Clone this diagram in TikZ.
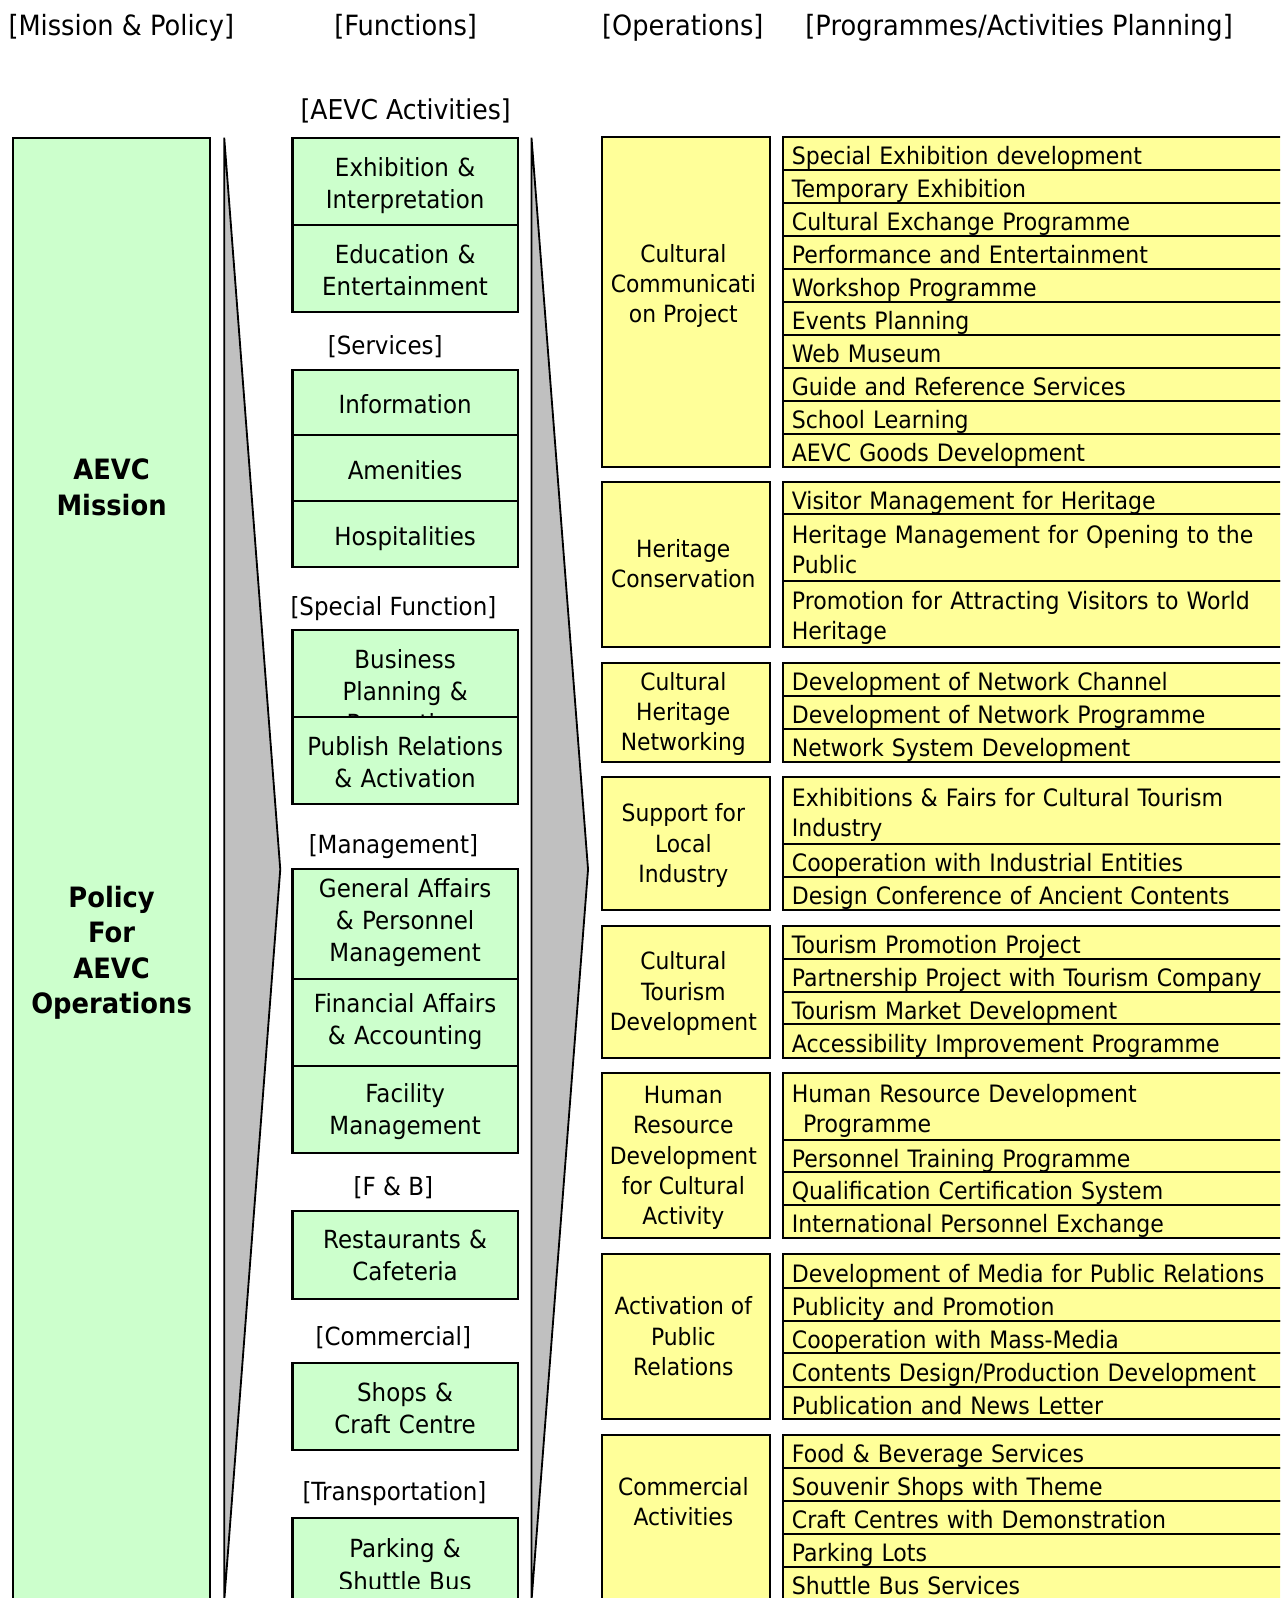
\documentclass[tikz,border=0pt]{standalone}
\usepackage{fontspec}
\setmainfont{DejaVu Sans}[FakeStretch=0.92]
\definecolor{mint}{HTML}{CCFFCC}
\definecolor{lemon}{HTML}{FFFF99}
\definecolor{chevgray}{HTML}{C0C0C0}
% a box given by its left edge, top and bottom
\newcommand\placecell[6]{%
  \pgfmathsetmacro\cellh{(#5)-(#4)}%
  \node[#2, minimum height=\cellh pt, anchor=north west] (#1) at (#3,#4) {#6};}
% an operations box with its caption set a little left of and below the centre
\newcommand\opsbox[4]{%
  \placecell{#1}{ocell}{591}{#2}{#3}{}%
  \node[otxt] (#1-t) at ([xshift=-3pt,yshift=-3pt]#1.center) {#4};}
\tikzset{
  every node/.style={inner sep=0pt, outer sep=0pt},
  edgeline/.style={draw=black, line width=2pt},
  % struts that fix where the lines of a text block sit
  fstrut/.style 2 args={execute at begin node={\rule{0pt}{#1}},
    execute at end node={\rule[-#2]{0pt}{#2}}},
  % function boxes
  ftxtbase/.style={text width=205pt, align=center, font=\fontsize{24.5}{31.5}\selectfont},
  ftxt/.style={ftxtbase, fstrut={29.9pt}{8pt}},
  fcell/.style={edgeline, fill=mint, minimum width=221pt, ftxtbase, fstrut={29.9pt}{8pt}},
  fcellhi/.style={edgeline, fill=mint, minimum width=221pt, ftxtbase, fstrut={22.9pt}{12pt}},
  fcellmid/.style={edgeline, fill=mint, minimum width=221pt, ftxtbase, fstrut={25.9pt}{9pt}},
  fcelleven/.style={edgeline, fill=mint, minimum width=221pt, ftxtbase, fstrut={25.9pt}{8pt}},
  % operations boxes
  otxt/.style={align=center, font=\fontsize{23.3}{29.7}\selectfont, fstrut={26pt}{7pt}},
  ocell/.style={edgeline, fill=lemon, minimum width=165pt},
  % programme rows
  icell/.style={edgeline, fill=lemon, text width=560pt, inner xsep=9pt, align=left,
    font=\fontsize{23.5}{29.5}\selectfont, fstrut={26.5pt}{4.8pt}},
  % mission & policy
  mcell/.style={edgeline, fill=mint, minimum width=193pt},
  mtxt/.style={align=center, font=\bfseries\fontsize{27.5}{34.5}\selectfont, fstrut={28pt}{8pt}},
  head/.style={anchor=base, font=\fontsize{27.4}{33}\selectfont},
  cat/.style={anchor=base, font=\fontsize{24.5}{30}\selectfont},
  catbig/.style={anchor=base, font=\fontsize{26.8}{32}\selectfont},
  chevron/.style={fill=chevgray, draw=black, line width=1.8pt, line join=miter},
}
\begin{document}
\begin{tikzpicture}[x=1pt,y=-1pt]
\path[use as bounding box] (0,0) rectangle (1256,1568);
\fill[white] (0,0) rectangle (1256,1568);
\clip (0,0) rectangle (1256,1568);

% column headings
\node[head] (hMission) at (119,35.3) {[Mission \& Policy]};
\node[head] (hFunc) at (398,35.3) {[Functions]};
\node[head] (hOps) at (670,35.3) {[Operations]};
\node[head] (hProg) at (1000,35.3) {[Programmes/Activities Planning]};

% mission & policy column
\placecell{mission}{mcell}{13}{135}{1600}{}
\node[mtxt] (mTop) at (109.5,482) {AEVC\\Mission};
\node[mtxt] (mBot) at (109.5,936) {Policy\\For\\AEVC\\Operations};

% chevrons between the columns
\coordinate (a1top) at (220,135);
\coordinate (a1tip) at (275,853);
\coordinate (a1bot) at (220,1571);
\draw[chevron] (a1top) -- (a1tip) -- (a1bot) -- cycle;
\coordinate (a2top) at (521.5,135);
\coordinate (a2tip) at (577,853);
\coordinate (a2bot) at (521.5,1571);
\draw[chevron] (a2top) -- (a2tip) -- (a2bot) -- cycle;

% functions column
\node[catbig] (cAct) at (398,117) {[AEVC Activities]};
\placecell{fExh}{fcell}{287}{135.1}{220.8}{Exhibition \&\\Interpretation}
\placecell{fEdu}{fcell}{287}{220.8}{305.8}{Education \&\\Entertainment}

\node[cat] (cSrv) at (378,347.7) {[Services]};
\placecell{fInfo}{fcell}{287}{363.1}{426.8}{Information}
\placecell{fAmen}{fcell}{287}{426.8}{491.6}{Amenities}
\placecell{fHosp}{fcell}{287}{491.6}{556.1}{Hospitalities}

\node[cat] (cSpec) at (386,603.5) {[Special Function]};
\placecell{fBiz}{fcell}{287}{618.5}{734.9}{Business\\Planning \&\\Promotion}
\placecell{fPub}{fcell}{287}{703.2}{789.3}{Publish Relations\\\& Activation}

\node[cat] (cMgmt) at (386,837.3) {[Management]};
\placecell{fGen}{fcellhi}{287}{853}{960.6}{General Affairs\\\& Personnel\\Management}
\placecell{fFin}{fcellhi}{287}{960.6}{1046}{Financial Affairs\\\& Accounting}
\placecell{fFac}{fcellmid}{287}{1046}{1131.7}{Facility\\Management}

\node[cat] (cFB) at (386,1172.6) {[F \& B]};
\placecell{fRest}{fcelleven}{287}{1188.3}{1274.7}{Restaurants \&\\Cafeteria}

\node[cat] (cCom) at (386,1319.8) {[Commercial]};
\placecell{fShop}{fcell}{287}{1337.1}{1422.8}{Shops \&\\Craft Centre}

\node[cat] (cTrans) at (387,1471.9) {[Transportation]};
\placecell{fPark}{fcell}{287}{1489.9}{1577}{}
\begin{scope}
  \clip (287,1489.9) rectangle (508,1558.5);
  \node[ftxt] (fParkTxt) at (fPark.center) {Parking \&\\Shuttle Bus};
\end{scope}

% operations column
\placecell{oCCP}{ocell}{591}{134.7}{457.9}{}
\node[otxt] (oCCP-t) at (670.5,281.7) {Cultural\\Communicati\\on Project};
\opsbox{oHer}{472.6}{634.6}{Heritage\\Conservation}
\opsbox{oNet}{650.2}{747.4}{Cultural\\Heritage\\Networking}
\opsbox{oSup}{762.8}{893}{Support for\\Local\\Industry}
\opsbox{oTour}{908.3}{1037.9}{Cultural\\Tourism\\Development}
\opsbox{oHR}{1053.2}{1215.1}{Human\\Resource\\Development\\for Cultural\\Activity}
\opsbox{oPR}{1230.5}{1392.7}{Activation of\\Public\\Relations}
\placecell{oCom}{ocell}{591}{1408.1}{1590}{}
\node[otxt] (oCom-t) at (670.5,1476.5) {Commercial\\Activities};

% programmes / activities column
\placecell{i11}{icell}{768}{134.7}{167.0}{Special Exhibition development}
\placecell{i12}{icell}{768}{167.0}{199.3}{Temporary Exhibition}
\placecell{i13}{icell}{768}{199.3}{231.7}{Cultural Exchange Programme}
\placecell{i14}{icell}{768}{231.7}{264.0}{Performance and Entertainment}
\placecell{i15}{icell}{768}{264.0}{296.3}{Workshop Programme}
\placecell{i16}{icell}{768}{296.3}{328.6}{Events Planning}
\placecell{i17}{icell}{768}{328.6}{360.9}{Web Museum}
\placecell{i18}{icell}{768}{360.9}{393.3}{Guide and Reference Services}
\placecell{i19}{icell}{768}{393.3}{425.6}{School Learning}
\placecell{i1a}{icell}{768}{425.6}{457.9}{AEVC Goods Development}

\placecell{i21}{icell}{768}{472.6}{504.7}{Visitor Management for Heritage}
\placecell{i22}{icell}{768}{504.7}{569.8}{Heritage Management for Opening to the\\Public}
\placecell{i23}{icell}{768}{569.8}{634.6}{Promotion for Attracting Visitors to World\\Heritage}

\placecell{i31}{icell}{768}{650.2}{683.0}{Development of Network Channel}
\placecell{i32}{icell}{768}{683.0}{715.6}{Development of Network Programme}
\placecell{i33}{icell}{768}{715.6}{747.4}{Network System Development}

\placecell{i41}{icell}{768}{762.8}{828.2}{Exhibitions \& Fairs for Cultural Tourism\\Industry}
\placecell{i42}{icell}{768}{828.2}{860.3}{Cooperation with Industrial Entities}
\placecell{i43}{icell}{768}{860.3}{893.0}{Design Conference of Ancient Contents}

\placecell{i51}{icell}{768}{908.3}{941.0}{Tourism Promotion Project}
\placecell{i52}{icell}{768}{941.0}{973.1}{Partnership Project with Tourism Company}
\placecell{i53}{icell}{768}{973.1}{1005.1}{Tourism Market Development}
\placecell{i54}{icell}{768}{1005.1}{1037.9}{Accessibility Improvement Programme}

\placecell{i61}{icell}{768}{1053.2}{1118.6}{Human Resource Development\\\hspace*{11pt}Programme}
\placecell{i62}{icell}{768}{1118.6}{1150.0}{Personnel Training Programme}
\placecell{i63}{icell}{768}{1150.0}{1182.7}{Qualification Certification System}
\placecell{i64}{icell}{768}{1182.7}{1215.1}{International Personnel Exchange}

\placecell{i71}{icell}{768}{1230.5}{1263.8}{Development of Media for Public Relations}
\placecell{i72}{icell}{768}{1263.8}{1296.0}{Publicity and Promotion}
\placecell{i73}{icell}{768}{1296.0}{1328.0}{Cooperation with Mass-Media}
\placecell{i74}{icell}{768}{1328.0}{1360.7}{Contents Design/Production Development}
\placecell{i75}{icell}{768}{1360.7}{1392.7}{Publication and News Letter}

\placecell{i81}{icell}{768}{1408.1}{1440.8}{Food \& Beverage Services}
\placecell{i82}{icell}{768}{1440.8}{1472.9}{Souvenir Shops with Theme}
\placecell{i83}{icell}{768}{1472.9}{1505.3}{Craft Centres with Demonstration}
\placecell{i84}{icell}{768}{1505.3}{1537.4}{Parking Lots}
\placecell{i85}{icell}{768}{1537.4}{1570}{Shuttle Bus Services}
\end{tikzpicture}
\end{document}
